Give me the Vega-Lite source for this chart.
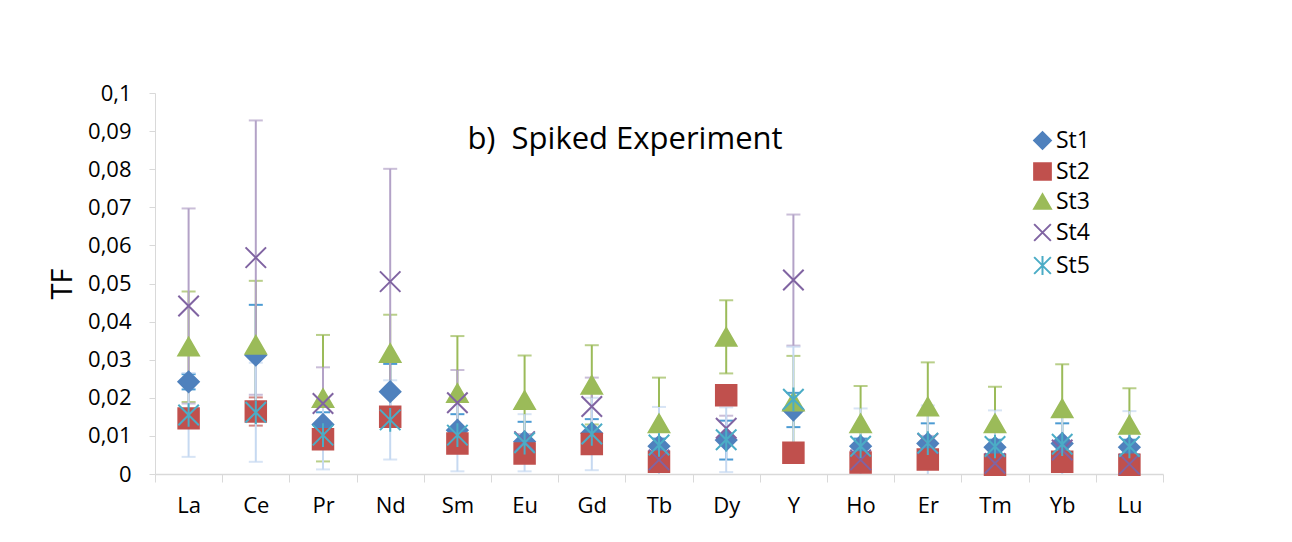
{
  "$schema": "https://vega.github.io/schema/vega-lite/v6.json",
  "width": 1008,
  "height": 381,
  "autosize": {"type": "none"},
  "padding": {"left": 155, "top": 93, "right": 129, "bottom": 68},
  "background": "white",
  "config": {
    "font": "Open Sans",
    "view": {"stroke": null},
    "axis": {"labelColor": "#000000", "titleColor": "#000000", "domainColor": "#D9D9D9", "tickColor": "#D9D9D9", "grid": false}
  },
  "title": {
    "text": "b)\u00a0 Spiked Experiment",
    "orient": "top",
    "anchor": "middle",
    "frame": "group",
    "baseline": "alphabetic",
    "offset": 0,
    "dy": 98,
    "dx": -34,
    "fontSize": 31,
    "fontWeight": "normal",
    "color": "#000000"
  },
  "data": {
    "values": [
      {"el": "La", "series": "St1", "tf": 0.0242, "err": 0.002},
      {"el": "Ce", "series": "St1", "tf": 0.0312, "err": 0.0132},
      {"el": "Pr", "series": "St1", "tf": 0.013, "err": 0.0032},
      {"el": "Nd", "series": "St1", "tf": 0.0216, "err": 0.0073},
      {"el": "Sm", "series": "St1", "tf": 0.0115, "err": 0.0042},
      {"el": "Eu", "series": "St1", "tf": 0.0085, "err": 0.0052},
      {"el": "Gd", "series": "St1", "tf": 0.0107, "err": 0.0037},
      {"el": "Tb", "series": "St1", "tf": 0.0073, "err": 0.002},
      {"el": "Dy", "series": "St1", "tf": 0.0089, "err": 0.0051},
      {"el": "Y", "series": "St1", "tf": 0.0168, "err": 0.0045},
      {"el": "Ho", "series": "St1", "tf": 0.0073, "err": 0.002},
      {"el": "Er", "series": "St1", "tf": 0.008, "err": 0.0053},
      {"el": "Tm", "series": "St1", "tf": 0.007, "err": 0.002},
      {"el": "Yb", "series": "St1", "tf": 0.008, "err": 0.0053},
      {"el": "Lu", "series": "St1", "tf": 0.007, "err": 0.002},

      {"el": "La", "series": "St2", "tf": 0.0146, "err": 0.002},
      {"el": "Ce", "series": "St2", "tf": 0.0164, "err": 0.0037},
      {"el": "Pr", "series": "St2", "tf": 0.0091, "err": 0.002},
      {"el": "Nd", "series": "St2", "tf": 0.015, "err": 0.002},
      {"el": "Sm", "series": "St2", "tf": 0.008, "err": 0.002},
      {"el": "Eu", "series": "St2", "tf": 0.0054, "err": 0.002},
      {"el": "Gd", "series": "St2", "tf": 0.0079, "err": 0.002},
      {"el": "Tb", "series": "St2", "tf": 0.0032, "err": 0.0015},
      {"el": "Dy", "series": "St2", "tf": 0.0207, "err": 0.002},
      {"el": "Y", "series": "St2", "tf": 0.0056, "err": 0.0015},
      {"el": "Ho", "series": "St2", "tf": 0.003, "err": 0.0015},
      {"el": "Er", "series": "St2", "tf": 0.0038, "err": 0.0015},
      {"el": "Tm", "series": "St2", "tf": 0.0024, "err": 0.0015},
      {"el": "Yb", "series": "St2", "tf": 0.0032, "err": 0.0015},
      {"el": "Lu", "series": "St2", "tf": 0.0024, "err": 0.0015},

      {"el": "La", "series": "St3", "tf": 0.0334, "err": 0.0145},
      {"el": "Ce", "series": "St3", "tf": 0.0339, "err": 0.0168},
      {"el": "Pr", "series": "St3", "tf": 0.0199, "err": 0.0166},
      {"el": "Nd", "series": "St3", "tf": 0.0317, "err": 0.0101},
      {"el": "Sm", "series": "St3", "tf": 0.0212, "err": 0.015},
      {"el": "Eu", "series": "St3", "tf": 0.0194, "err": 0.0117},
      {"el": "Gd", "series": "St3", "tf": 0.0234, "err": 0.0104},
      {"el": "Tb", "series": "St3", "tf": 0.0133, "err": 0.012},
      {"el": "Dy", "series": "St3", "tf": 0.036, "err": 0.0096},
      {"el": "Y", "series": "St3", "tf": 0.019, "err": 0.012},
      {"el": "Ho", "series": "St3", "tf": 0.0133, "err": 0.0098},
      {"el": "Er", "series": "St3", "tf": 0.0177, "err": 0.0116},
      {"el": "Tm", "series": "St3", "tf": 0.0133, "err": 0.0096},
      {"el": "Yb", "series": "St3", "tf": 0.0172, "err": 0.0116},
      {"el": "Lu", "series": "St3", "tf": 0.0129, "err": 0.0096},

      {"el": "La", "series": "St4", "tf": 0.0441, "err": 0.0256},
      {"el": "Ce", "series": "St4", "tf": 0.0568, "err": 0.036},
      {"el": "Pr", "series": "St4", "tf": 0.0185, "err": 0.0095},
      {"el": "Nd", "series": "St4", "tf": 0.0505, "err": 0.0296},
      {"el": "Sm", "series": "St4", "tf": 0.0187, "err": 0.0086},
      {"el": "Eu", "series": "St4", "tf": 0.0085, "err": 0.002},
      {"el": "Gd", "series": "St4", "tf": 0.0177, "err": 0.0076},
      {"el": "Tb", "series": "St4", "tf": 0.0037, "err": 0.002},
      {"el": "Dy", "series": "St4", "tf": 0.012, "err": 0.0033},
      {"el": "Y", "series": "St4", "tf": 0.0509, "err": 0.0172},
      {"el": "Ho", "series": "St4", "tf": 0.0037, "err": 0.002},
      {"el": "Er", "series": "St4", "tf": 0.008, "err": 0.002},
      {"el": "Tm", "series": "St4", "tf": 0.0028, "err": 0.002},
      {"el": "Yb", "series": "St4", "tf": 0.0063, "err": 0.002},
      {"el": "Lu", "series": "St4", "tf": 0.0026, "err": 0.002},

      {"el": "La", "series": "St5", "tf": 0.0155, "err": 0.011},
      {"el": "Ce", "series": "St5", "tf": 0.0162, "err": 0.013},
      {"el": "Pr", "series": "St5", "tf": 0.0102, "err": 0.009},
      {"el": "Nd", "series": "St5", "tf": 0.0142, "err": 0.0104},
      {"el": "Sm", "series": "St5", "tf": 0.0102, "err": 0.0095},
      {"el": "Eu", "series": "St5", "tf": 0.0082, "err": 0.0075},
      {"el": "Gd", "series": "St5", "tf": 0.0105, "err": 0.0095},
      {"el": "Tb", "series": "St5", "tf": 0.0076, "err": 0.01},
      {"el": "Dy", "series": "St5", "tf": 0.009, "err": 0.0085},
      {"el": "Y", "series": "St5", "tf": 0.0196, "err": 0.0138},
      {"el": "Ho", "series": "St5", "tf": 0.0073, "err": 0.0099},
      {"el": "Er", "series": "St5", "tf": 0.0081, "err": 0.0099},
      {"el": "Tm", "series": "St5", "tf": 0.0072, "err": 0.0095},
      {"el": "Yb", "series": "St5", "tf": 0.0078, "err": 0.0086},
      {"el": "Lu", "series": "St5", "tf": 0.0072, "err": 0.0093}
    ]
  },
  "encoding": {
    "x": {
      "field": "el",
      "type": "nominal",
      "sort": ["La", "Ce", "Pr", "Nd", "Sm", "Eu", "Gd", "Tb", "Dy", "Y", "Ho", "Er", "Tm", "Yb", "Lu"],
      "scale": {"paddingInner": 0, "paddingOuter": 0},
      "axis": {
        "title": null,
        "labelAngle": 0,
        "tickBand": "extent",
        "tickSize": 8,
        "labelFontSize": 22,
        "labelPadding": 13,
        "domainWidth": 1.5
      }
    },
    "y": {
      "field": "tf",
      "type": "quantitative",
      "scale": {"domain": [0, 0.1], "nice": false},
      "axis": {
        "title": "TF",
        "titleFontSize": 29,
        "titleFontWeight": "normal",
        "titlePadding": 10,
        "values": [0, 0.01, 0.02, 0.03, 0.04, 0.05, 0.06, 0.07, 0.08, 0.09, 0.1],
        "labelExpr": "replace(format(datum.value, '.2~f'), '.', ',')",
        "labelOverlap": false,
        "labelFontSize": 22,
        "tickSize": 6,
        "labelPadding": 18
      }
    }
  },
  "layer": [
    {
      "mark": {"type": "errorbar", "ticks": {"size": 14, "thickness": 2}, "thickness": 2, "clip": true},
      "encoding": {
        "yError": {"field": "err"},
        "color": {
          "field": "series",
          "type": "nominal",
          "scale": {"range": ["#0070C0", "#C0504D", "#9BBB59", "#B3A2C7", "#C6D9F1"]},
          "legend": null
        }
      }
    },
    {
      "mark": {"type": "point", "size": 420, "strokeWidth": 2, "opacity": 1},
      "encoding": {
        "fill": {
          "field": "series",
          "type": "nominal",
          "scale": {"domain": ["St1", "St2", "St3", "St4", "St5"], "range": ["#4F81BD", "#C0504D", "#9BBB59", "transparent", "transparent"]},
          "legend": {"title": null, "orient": "none", "legendX": 876, "legendY": 36, "labelFontSize": 23, "symbolSize": 280, "symbolStrokeWidth": 2, "rowPadding": 6, "labelOffset": 2, "labelColor": "#000000"}
        },
        "stroke": {
          "field": "series",
          "type": "nominal",
          "scale": {"domain": ["St1", "St2", "St3", "St4", "St5"], "range": ["#4F81BD", "#C0504D", "#9BBB59", "#8064A2", "#4BACC6"]},
          "legend": {"title": null, "orient": "none", "legendX": 876, "legendY": 36, "labelFontSize": 23, "symbolSize": 280, "symbolStrokeWidth": 2, "rowPadding": 6, "labelOffset": 2, "labelColor": "#000000"}
        },
        "shape": {
          "field": "series",
          "type": "nominal",
          "scale": {"domain": ["St1", "St2", "St3", "St4", "St5"], "range": ["diamond", "square", "triangle-up", "M-1,-1L1,1M-1,1L1,-1", "M-1,-1L1,1M-1,1L1,-1M0,-1.15L0,1.15"]},
          "legend": {"title": null, "orient": "none", "legendX": 876, "legendY": 36, "labelFontSize": 23, "symbolSize": 280, "symbolStrokeWidth": 2, "rowPadding": 6, "labelOffset": 2, "labelColor": "#000000"}
        }
      }
    }
  ]
}
